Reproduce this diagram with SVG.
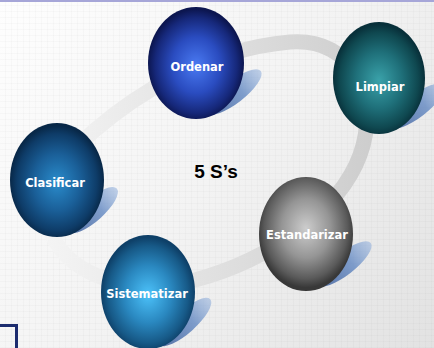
<svg xmlns="http://www.w3.org/2000/svg" width="434" height="348" viewBox="0 0 434 348">
  <defs>
    <linearGradient id="bg" x1="0" y1="0" x2="434" y2="348" gradientUnits="userSpaceOnUse">
      <stop offset="0" stop-color="#fefefe"/>
      <stop offset="0.5" stop-color="#f3f3f3"/>
      <stop offset="1" stop-color="#e2e2e2"/>
    </linearGradient>
    <pattern id="grid" width="6" height="6" patternUnits="userSpaceOnUse">
      <path d="M6 0V6M0 6H6" fill="none" stroke="#000" stroke-opacity="0.035" stroke-width="1"/>
    </pattern>
    <linearGradient id="ringGrad" x1="40" y1="0" x2="375" y2="0" gradientUnits="userSpaceOnUse">
      <stop offset="0" stop-color="#f5f5f5"/>
      <stop offset="0.35" stop-color="#e7e7e7"/>
      <stop offset="1" stop-color="#cdcdcd"/>
    </linearGradient>
    <linearGradient id="shadow" x1="0" y1="0" x2="1" y2="0">
      <stop offset="0" stop-color="#46659e" stop-opacity="0.9"/>
      <stop offset="0.6" stop-color="#6288c2" stop-opacity="0.8"/>
      <stop offset="1" stop-color="#92b0dc" stop-opacity="0.55"/>
    </linearGradient>
    <radialGradient id="gOrdenar" cx="0.5" cy="0.52" r="0.5">
      <stop offset="0" stop-color="#4a7af2"/>
      <stop offset="0.5" stop-color="#2a4cc0"/>
      <stop offset="0.85" stop-color="#16287a"/>
      <stop offset="1" stop-color="#0c1650"/>
    </radialGradient>
    <radialGradient id="gLimpiar" cx="0.5" cy="0.52" r="0.5">
      <stop offset="0" stop-color="#3aa2aa"/>
      <stop offset="0.5" stop-color="#1f707a"/>
      <stop offset="0.85" stop-color="#0f4850"/>
      <stop offset="1" stop-color="#08303a"/>
    </radialGradient>
    <radialGradient id="gClasificar" cx="0.5" cy="0.52" r="0.5">
      <stop offset="0" stop-color="#2a8ccc"/>
      <stop offset="0.5" stop-color="#1a5f98"/>
      <stop offset="0.85" stop-color="#0e3c68"/>
      <stop offset="1" stop-color="#082848"/>
    </radialGradient>
    <radialGradient id="gEstandarizar" cx="0.5" cy="0.45" r="0.52">
      <stop offset="0" stop-color="#cdcdcd"/>
      <stop offset="0.5" stop-color="#959595"/>
      <stop offset="0.85" stop-color="#5a5a5a"/>
      <stop offset="1" stop-color="#383838"/>
    </radialGradient>
    <radialGradient id="gSistematizar" cx="0.5" cy="0.52" r="0.5">
      <stop offset="0" stop-color="#4cc2fa"/>
      <stop offset="0.5" stop-color="#2a88c0"/>
      <stop offset="0.85" stop-color="#175a88"/>
      <stop offset="1" stop-color="#0e4068"/>
    </radialGradient>
    <style>
      .label { font-family: "DejaVu Sans", Verdana, sans-serif; font-weight: bold; font-size: 11.5px; fill: #ffffff; text-anchor: middle; }
      .title { font-family: "Liberation Sans", Arial, sans-serif; font-weight: bold; font-size: 19px; fill: #000000; text-anchor: middle; }
      .shadow { fill: url(#shadow); }
    </style>
  </defs>

  <!-- background -->
  <rect x="0" y="0" width="434" height="348" fill="url(#bg)"/>
  <rect x="0" y="0" width="434" height="348" fill="url(#grid)"/>
  <rect x="0" y="0" width="434" height="2" fill="#a6a6d8"/>
  <rect x="-10" y="325.5" width="26.5" height="40" fill="none" stroke="#1c2c6e" stroke-width="3"/>

  <!-- cycle ring -->
  <g id="connectors">
    <path d="M95 130 C130 100 200 50 290 42 C355 37 380 100 360 155 C340 210 270 260 195 280 C130 297 70 275 52 235 C38 200 60 160 95 130 Z" fill="none" stroke="url(#ringGrad)" stroke-width="15"/>
  </g>

  <text class="title" x="216" y="178">5 S’s</text>

  <g id="ordenar">
    <ellipse class="shadow" cx="234" cy="92" rx="34" ry="11" transform="rotate(-38 234 92)"/>
    <ellipse cx="196" cy="63" rx="48" ry="56" fill="url(#gOrdenar)"/>
    <text class="label" x="197" y="71">Ordenar</text>
  </g>

  <g id="limpiar">
    <ellipse class="shadow" cx="417" cy="106" rx="34" ry="11" transform="rotate(-38 417 106)"/>
    <ellipse cx="379" cy="78" rx="46" ry="56" fill="url(#gLimpiar)"/>
    <text class="label" x="380" y="91">Limpiar</text>
  </g>

  <g id="clasificar">
    <ellipse class="shadow" cx="93" cy="210" rx="32" ry="11" transform="rotate(-42 93 210)"/>
    <ellipse cx="57" cy="180" rx="47" ry="57" fill="url(#gClasificar)"/>
    <text class="label" x="55" y="187">Clasificar</text>
  </g>

  <g id="estandarizar">
    <ellipse class="shadow" cx="344" cy="264" rx="34" ry="11" transform="rotate(-38 344 264)"/>
    <ellipse cx="306" cy="234" rx="47" ry="57" fill="url(#gEstandarizar)"/>
    <text class="label" x="307" y="239">Estandarizar</text>
  </g>

  <g id="sistematizar">
    <ellipse class="shadow" cx="185" cy="322" rx="34" ry="11" transform="rotate(-42 185 322)"/>
    <ellipse cx="148" cy="292" rx="47" ry="57" fill="url(#gSistematizar)"/>
    <text class="label" x="147" y="298">Sistematizar</text>
  </g>
</svg>
